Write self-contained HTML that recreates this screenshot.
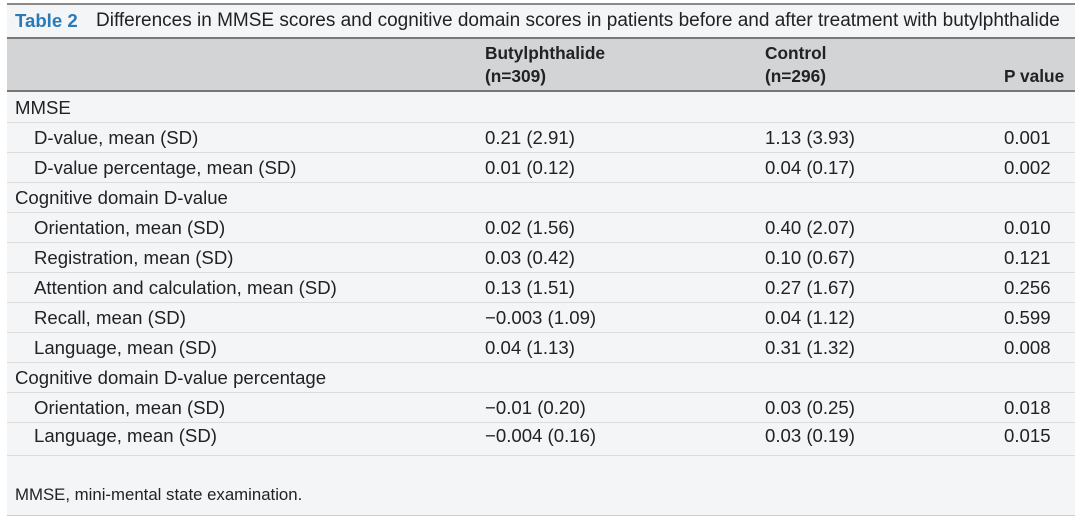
<!DOCTYPE html>
<html><head><meta charset="utf-8"><style>
body{margin:0;width:1080px;height:517px;background:#fff;font-family:"Liberation Sans",sans-serif;color:#222;position:relative;overflow:hidden}
.bg{position:absolute;left:7px;top:3px;width:1068px;height:510px;background:#f4f5f7;border-top:2px solid #8a8a8a;border-bottom:1px solid #ccc}
.t{position:absolute;font-size:18.6px;white-space:nowrap;line-height:20px}
.h{position:absolute;left:7px;width:1068px;top:37px;height:51px;background:#d3d4d6;border-top:2px solid #777;border-bottom:2px solid #777}
.l{position:absolute;left:7px;width:1068px;height:1px;background:#dcdcdc}
.b{font-weight:bold;font-size:17.3px}
</style></head><body>
<div class="bg"></div>
<div class="t" style="left:15px;top:11px;font-weight:bold;color:#2a7ab8">Table 2</div>
<div class="t" style="left:96px;top:11px;font-size:19px">Differences in MMSE scores and cognitive domain scores in patients before and after treatment with butylphthalide</div>
<div class="h"></div>
<div class="t b" style="left:485px;top:43px">Butylphthalide</div>
<div class="t b" style="left:485px;top:66px">(n=309)</div>
<div class="t b" style="left:765px;top:43px">Control</div>
<div class="t b" style="left:765px;top:66px">(n=296)</div>
<div class="t b" style="left:1004px;top:66px">P value</div>

<div class="t" style="left:15px;top:98px">MMSE</div>
<div class="l" style="top:122px"></div>
<div class="t" style="left:34px;top:128px">D-value, mean (SD)</div><div class="t" style="left:485px;top:128px">0.21 (2.91)</div><div class="t" style="left:765px;top:128px">1.13 (3.93)</div><div class="t" style="left:1004px;top:128px">0.001</div>
<div class="l" style="top:152px"></div>
<div class="t" style="left:34px;top:158px">D-value percentage, mean (SD)</div><div class="t" style="left:485px;top:158px">0.01 (0.12)</div><div class="t" style="left:765px;top:158px">0.04 (0.17)</div><div class="t" style="left:1004px;top:158px">0.002</div>
<div class="l" style="top:182px"></div>
<div class="t" style="left:15px;top:188px">Cognitive domain D-value</div>
<div class="l" style="top:212px"></div>
<div class="t" style="left:34px;top:218px">Orientation, mean (SD)</div><div class="t" style="left:485px;top:218px">0.02 (1.56)</div><div class="t" style="left:765px;top:218px">0.40 (2.07)</div><div class="t" style="left:1004px;top:218px">0.010</div>
<div class="l" style="top:242px"></div>
<div class="t" style="left:34px;top:248px">Registration, mean (SD)</div><div class="t" style="left:485px;top:248px">0.03 (0.42)</div><div class="t" style="left:765px;top:248px">0.10 (0.67)</div><div class="t" style="left:1004px;top:248px">0.121</div>
<div class="l" style="top:272px"></div>
<div class="t" style="left:34px;top:278px">Attention and calculation, mean (SD)</div><div class="t" style="left:485px;top:278px">0.13 (1.51)</div><div class="t" style="left:765px;top:278px">0.27 (1.67)</div><div class="t" style="left:1004px;top:278px">0.256</div>
<div class="l" style="top:302px"></div>
<div class="t" style="left:34px;top:308px">Recall, mean (SD)</div><div class="t" style="left:485px;top:308px">−0.003 (1.09)</div><div class="t" style="left:765px;top:308px">0.04 (1.12)</div><div class="t" style="left:1004px;top:308px">0.599</div>
<div class="l" style="top:332px"></div>
<div class="t" style="left:34px;top:338px">Language, mean (SD)</div><div class="t" style="left:485px;top:338px">0.04 (1.13)</div><div class="t" style="left:765px;top:338px">0.31 (1.32)</div><div class="t" style="left:1004px;top:338px">0.008</div>
<div class="l" style="top:362px"></div>
<div class="t" style="left:15px;top:368px">Cognitive domain D-value percentage</div>
<div class="l" style="top:392px"></div>
<div class="t" style="left:34px;top:398px">Orientation, mean (SD)</div><div class="t" style="left:485px;top:398px">−0.01 (0.20)</div><div class="t" style="left:765px;top:398px">0.03 (0.25)</div><div class="t" style="left:1004px;top:398px">0.018</div>
<div class="l" style="top:422px"></div>
<div class="t" style="left:34px;top:426px">Language, mean (SD)</div><div class="t" style="left:485px;top:426px">−0.004 (0.16)</div><div class="t" style="left:765px;top:426px">0.03 (0.19)</div><div class="t" style="left:1004px;top:426px">0.015</div>
<div class="l" style="top:455px"></div>
<div class="t" style="left:15px;top:485px;font-size:16.8px">MMSE, mini-mental state examination.</div>
</body></html>
